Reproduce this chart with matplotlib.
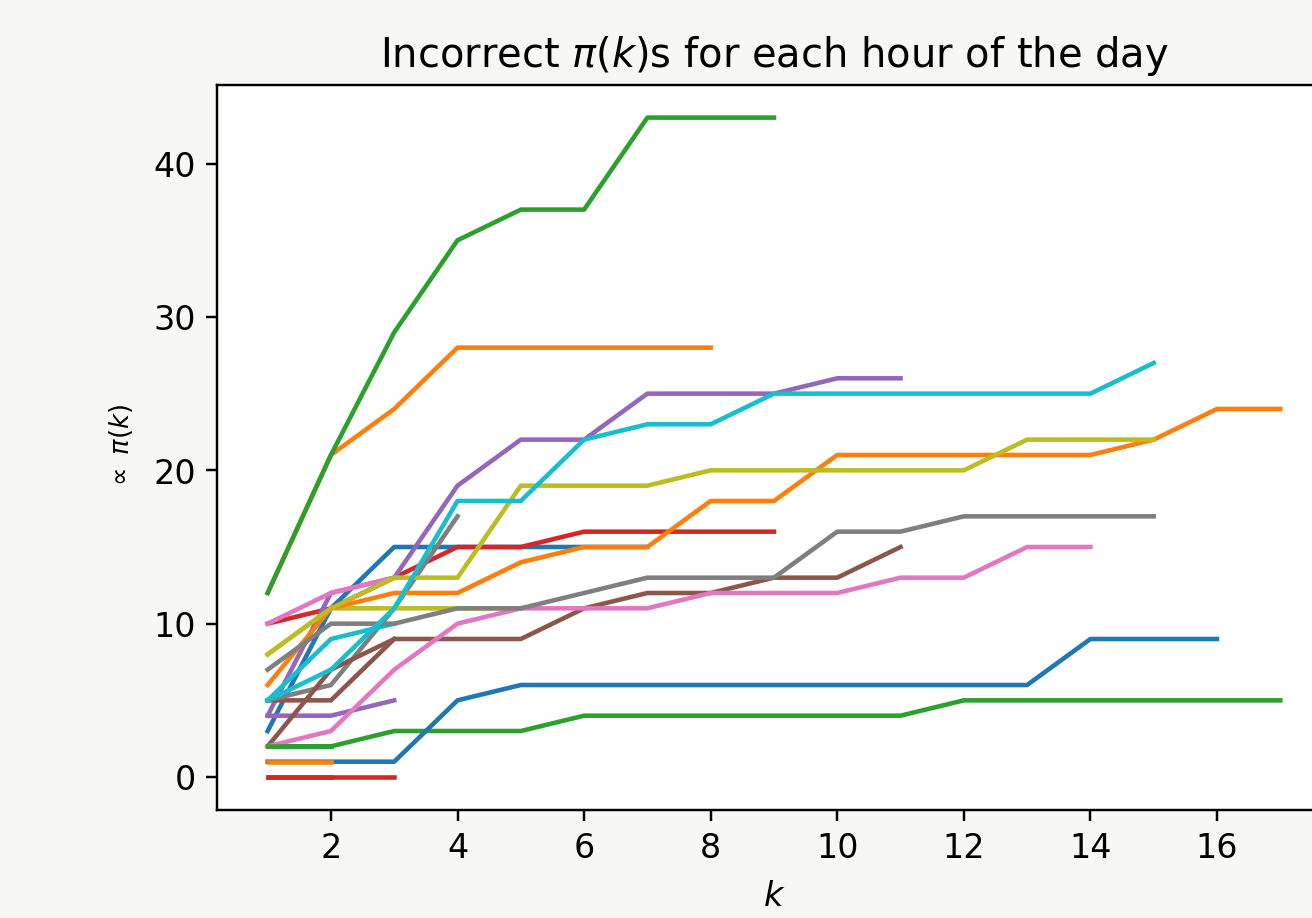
import matplotlib
matplotlib.use("Agg")
import matplotlib.pyplot as plt

# ---------------- DATA (one list per hour, value at k = 1, 2, ...) ----------------
hour_00 = [3, 11, 15, 15, 15, 15, 15]
hour_01 = [12, 21, 24, 28, 28, 28, 28, 28]
hour_02 = [12, 21, 29, 35, 37, 37, 43, 43, 43]
hour_03 = [10, 11, 13, 15, 15, 16, 16, 16, 16]
hour_04 = [4, 12, 13, 19, 22, 22, 25, 25, 25, 26, 26]
hour_05 = [5, 5, 9]
hour_06 = [10, 12, 13]
hour_07 = [5, 6, 11, 17]
hour_08 = [8, 11, 11, 11, 11]
hour_09 = [5, 9, 10]
hour_10 = [2, 2]
hour_11 = [6, 11, 12, 12, 14, 15, 15, 18, 18, 21, 21, 21, 21, 21, 22, 24, 24]
hour_12 = [2, 2, 3, 3, 3, 4, 4, 4, 4, 4, 4, 5, 5, 5, 5, 5, 5]
hour_13 = [0, 0, 0]
hour_14 = [4, 4, 5]
hour_15 = [2, 7, 9, 9, 9, 11, 12, 12, 13, 13, 15]
hour_16 = [2, 3, 7, 10, 11, 11, 11, 12, 12, 12, 13, 13, 15, 15]
hour_17 = [7, 10, 10, 11, 11, 12, 13, 13, 13, 16, 16, 17, 17, 17, 17]
hour_18 = [8, 11, 13, 13, 19, 19, 19, 20, 20, 20, 20, 20, 22, 22, 22]
hour_19 = [5, 7, 11, 18, 18, 22, 23, 23, 25, 25, 25, 25, 25, 25, 27]
hour_20 = [1, 1, 1, 5, 6, 6, 6, 6, 6, 6, 6, 6, 6, 9, 9, 9]
hour_21 = [1, 1]
hour_22 = [2, 2]
hour_23 = [0, 0]

hours = [hour_00, hour_01, hour_02, hour_03, hour_04, hour_05, hour_06, hour_07,
         hour_08, hour_09, hour_10, hour_11, hour_12, hour_13, hour_14, hour_15,
         hour_16, hour_17, hour_18, hour_19, hour_20, hour_21, hour_22, hour_23]

# ---------------- PLOT ----------------
# the reference is a cropped screenshot: right spine falls outside the picture
fig = plt.figure(figsize=(6, 4.2), dpi=218.67, facecolor="#f7f7f5")
ax = fig.add_axes([0.1654, 0.1176, 0.849, 0.7898])

for vals in hours:
    ks = list(range(1, len(vals) + 1))
    ax.plot(ks, vals)

ax.set_title(r"Incorrect $\pi(k)$s for each hour of the day", fontsize=13.2)
ax.set_xlabel(r"$k$", fontsize=11, labelpad=5)
ax.set_ylabel(r"$\propto\ \pi(k)$", fontsize=8.5, labelpad=6)
ax.set_yticks([0, 10, 20, 30, 40])
ax.tick_params(labelsize=11)

fig.savefig("out.png", dpi=218.67, facecolor=fig.get_facecolor())
